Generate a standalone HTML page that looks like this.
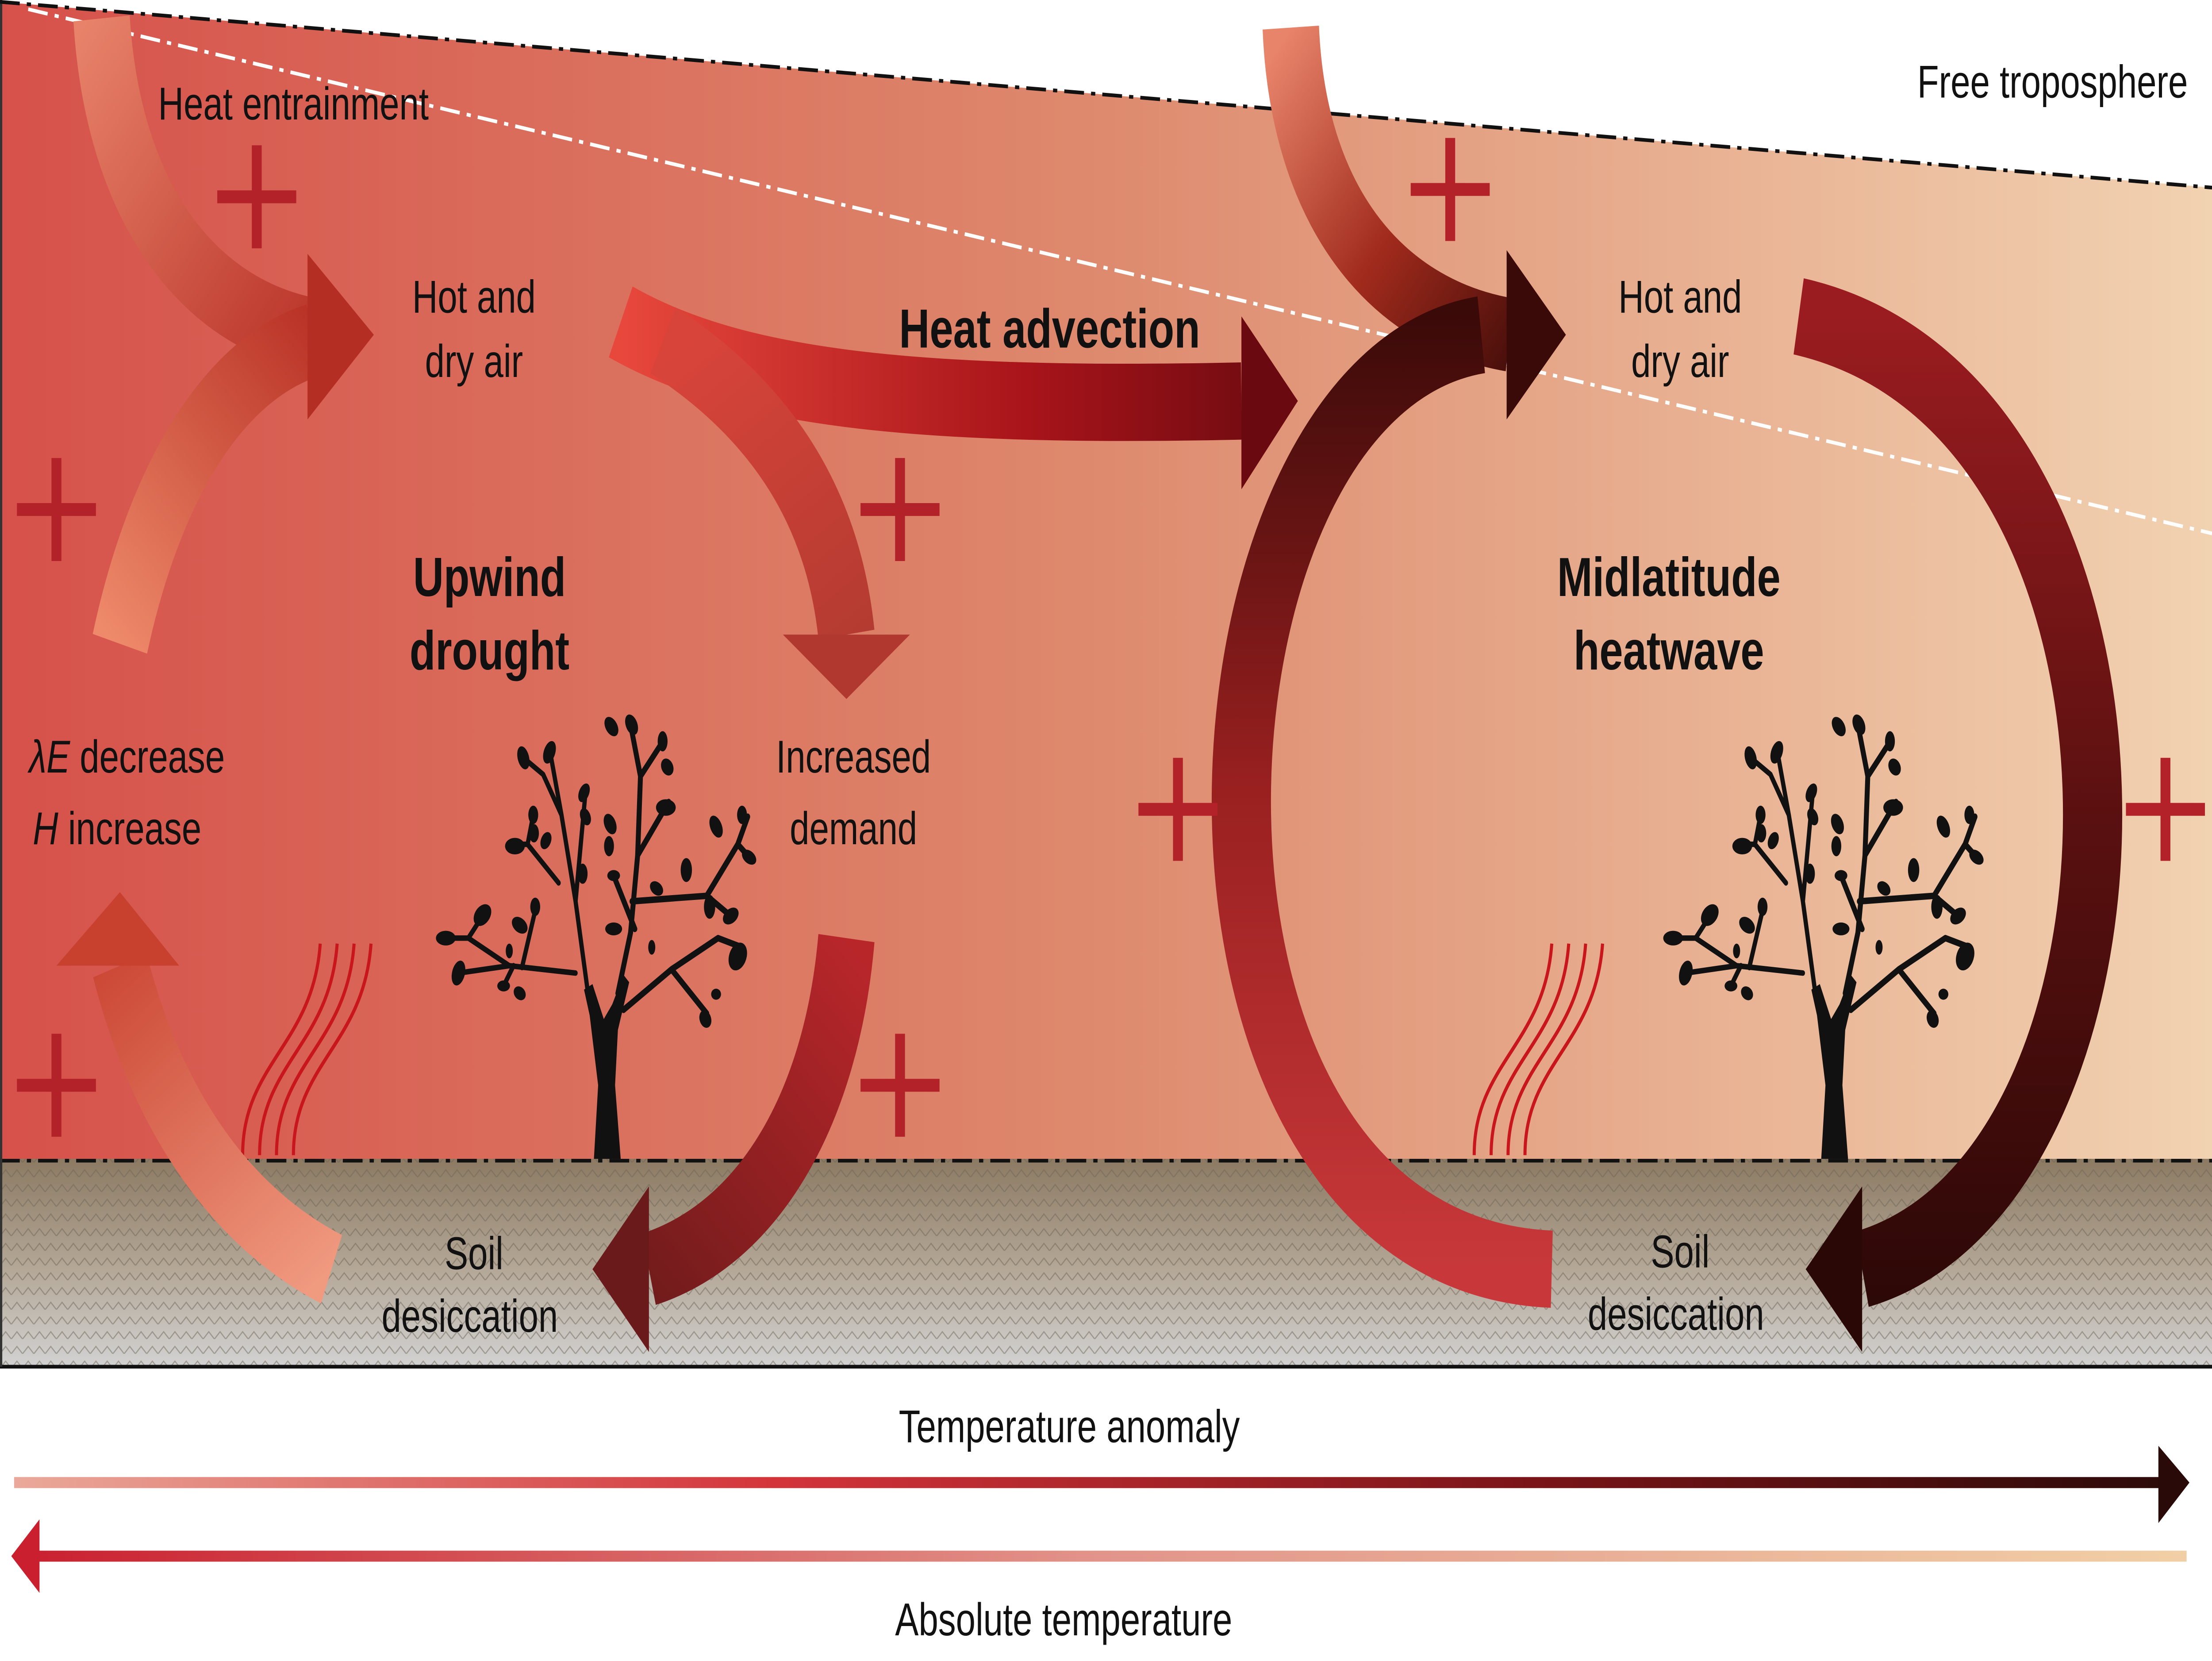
<!DOCTYPE html>
<html><head><meta charset="utf-8"><style>
html,body{margin:0;padding:0;background:#fff;width:100vw;height:100vh;overflow:hidden;}
svg{display:block;width:100vw;height:100vh;}
text{font-family:"Liberation Sans",sans-serif;}
</style></head><body>
<svg viewBox="0 0 1568 903" preserveAspectRatio="none" xmlns="http://www.w3.org/2000/svg">
<defs>
<linearGradient id="bg" x1="0" y1="0" x2="1568" y2="0" gradientUnits="userSpaceOnUse">
<stop offset="0" stop-color="#d6514a"/><stop offset="0.5" stop-color="#de8a6e"/><stop offset="1" stop-color="#f1d2b1"/></linearGradient>
<linearGradient id="gr" x1="0" y1="630" x2="0" y2="743" gradientUnits="userSpaceOnUse">
<stop offset="0" stop-color="#8c7a63"/><stop offset="0.55" stop-color="#b5a999"/><stop offset="1" stop-color="#d2d2d2"/></linearGradient>
<pattern id="hatch" width="8" height="8" patternUnits="userSpaceOnUse">
<path d="M0 8 L4 4 L8 8" stroke="#6e6658" stroke-width="0.7" fill="none" opacity="0.5"/></pattern>
<linearGradient id="ta" x1="10" y1="0" x2="1550" y2="0" gradientUnits="userSpaceOnUse">
<stop offset="0" stop-color="#eaa99a"/><stop offset="0.35" stop-color="#d3343a"/><stop offset="0.7" stop-color="#7a1418"/><stop offset="1" stop-color="#2a0a08"/></linearGradient>
<linearGradient id="at" x1="10" y1="0" x2="1550" y2="0" gradientUnits="userSpaceOnUse">
<stop offset="0" stop-color="#c91f2e"/><stop offset="0.5" stop-color="#e2948a"/><stop offset="1" stop-color="#f1cfa5"/></linearGradient>
<linearGradient id="g1" x1="60" y1="10" x2="265" y2="180" gradientUnits="userSpaceOnUse">
<stop offset="0" stop-color="#e8836a"/><stop offset="1" stop-color="#b42a22"/></linearGradient>
<linearGradient id="g2" x1="80" y1="350" x2="240" y2="180" gradientUnits="userSpaceOnUse">
<stop offset="0" stop-color="#ee8a6a"/><stop offset="1" stop-color="#b83024"/></linearGradient>
<linearGradient id="g3" x1="440" y1="0" x2="920" y2="0" gradientUnits="userSpaceOnUse">
<stop offset="0" stop-color="#e8483c"/><stop offset="0.6" stop-color="#a8141a"/><stop offset="1" stop-color="#6a0a10"/></linearGradient>
<linearGradient id="g4" x1="480" y1="190" x2="600" y2="380" gradientUnits="userSpaceOnUse">
<stop offset="0" stop-color="#d8443a"/><stop offset="1" stop-color="#b03a30"/></linearGradient>
<linearGradient id="g5" x1="600" y1="510" x2="420" y2="700" gradientUnits="userSpaceOnUse">
<stop offset="0" stop-color="#b8262a"/><stop offset="1" stop-color="#6a1a1a"/></linearGradient>
<linearGradient id="g6" x1="235" y1="690" x2="85" y2="490" gradientUnits="userSpaceOnUse">
<stop offset="0" stop-color="#f09a80"/><stop offset="1" stop-color="#c8402e"/></linearGradient>
<linearGradient id="g7" x1="915" y1="15" x2="1110" y2="180" gradientUnits="userSpaceOnUse">
<stop offset="0" stop-color="#e8846a"/><stop offset="0.5" stop-color="#a02a1c"/><stop offset="1" stop-color="#3a0a08"/></linearGradient>
<linearGradient id="g8" x1="0" y1="690" x2="0" y2="170" gradientUnits="userSpaceOnUse">
<stop offset="0" stop-color="#c8383a"/><stop offset="0.5" stop-color="#9a2020"/><stop offset="1" stop-color="#3a0a08"/></linearGradient>
<linearGradient id="g9" x1="0" y1="170" x2="0" y2="720" gradientUnits="userSpaceOnUse">
<stop offset="0" stop-color="#9a1c20"/><stop offset="0.5" stop-color="#5a1010"/><stop offset="1" stop-color="#2a0806"/></linearGradient>
<g id="tree" fill="#111" stroke="#111" stroke-linecap="round" stroke-linejoin="round">
<path d="M-9 0 L-6 -40 L-12 -78 L-16 -92 L-10 -95 L-2 -76 L4 -84 L12 -100 L16 -96 L8 -70 L6 -40 L10 0 Z" stroke="none"/>
<path d="M-13 -89 L-22 -140 L-32 -187 L-45 -209 L-59 -218 M-32 -187 L-40 -221 M-22 -140 L-15 -199 M-22 -101 L-69 -105 L-98 -120 L-118 -120 M-69 -105 L-105 -101 M-34 -150 L-56 -171 L-69 -171 M-56 -171 L-52 -187 M-98 -120 L-88 -132 M-60 -104 L-50 -137 M-66 -105 L-73 -94" fill="none" stroke-width="3"/>
<path d="M8 -90 L17 -123 L22 -165 L24 -208 L17 -236 M24 -208 L40 -227 M22 -165 L44 -194 M18 -140 L71 -143 L93 -171 L100 -186 M71 -143 L88 -132 M12 -81 L46 -103 L79 -120 L96 -115 M46 -103 L71 -79 M20 -125 L5 -154 M93 -171 L101 -164" fill="none" stroke-width="3.5"/>
<g stroke="none">
<ellipse cx="-59" cy="-218" rx="4" ry="6.5" transform="rotate(-20 -59 -218)"/><ellipse cx="-40.5" cy="-221" rx="4" ry="6.5" transform="rotate(25 -40.5 -221)"/>
<ellipse cx="3.4" cy="-235" rx="4" ry="6" transform="rotate(-40 3.4 -235)"/><ellipse cx="17.7" cy="-236" rx="4" ry="6" transform="rotate(-30 17.7 -236)"/>
<ellipse cx="39.7" cy="-227" rx="3.5" ry="5.5"/><ellipse cx="43" cy="-213" rx="4" ry="5" transform="rotate(-40 43 -213)"/>
<ellipse cx="42" cy="-191" rx="7" ry="4.5"/><ellipse cx="-16" cy="-199" rx="3.5" ry="5.5" transform="rotate(30 -16 -199)"/>
<ellipse cx="-15" cy="-186" rx="3.5" ry="5" transform="rotate(-30 -15 -186)"/><ellipse cx="-52" cy="-187" rx="3.5" ry="5"/>
<ellipse cx="-51.5" cy="-177" rx="3.5" ry="5"/><ellipse cx="-65" cy="-170" rx="7" ry="4.5"/><ellipse cx="-43" cy="-173" rx="3.5" ry="5" transform="rotate(30 -43 -173)"/>
<ellipse cx="2.5" cy="-182" rx="4" ry="6" transform="rotate(-30 2.5 -182)"/><ellipse cx="1.7" cy="-170" rx="3.5" ry="5.5"/>
<ellipse cx="-17" cy="-155" rx="3.5" ry="5.5"/><ellipse cx="5" cy="-154" rx="4.5" ry="3"/><ellipse cx="56.5" cy="-157" rx="4" ry="6.5"/>
<ellipse cx="35.4" cy="-147" rx="5" ry="3.5" transform="rotate(30 35.4 -147)"/><ellipse cx="77.6" cy="-180.6" rx="4" ry="6.5" transform="rotate(-30 77.6 -180.6)"/>
<ellipse cx="96" cy="-187" rx="3.5" ry="5"/><ellipse cx="101" cy="-164" rx="5.5" ry="3.5" transform="rotate(30 101 -164)"/>
<ellipse cx="73" cy="-137" rx="4" ry="6.5"/><ellipse cx="88" cy="-132" rx="6" ry="4" transform="rotate(-30 88 -132)"/>
<ellipse cx="93" cy="-110" rx="6" ry="8" transform="rotate(30 93 -110)"/><ellipse cx="77.6" cy="-89.5" rx="3.5" ry="3"/>
<ellipse cx="70" cy="-76" rx="4" ry="5" transform="rotate(-30 70 -76)"/><ellipse cx="5" cy="-125" rx="6" ry="3.5"/>
<ellipse cx="32" cy="-115" rx="2.5" ry="4"/><ellipse cx="-88" cy="-132.5" rx="7" ry="5" transform="rotate(-40 -88 -132.5)"/>
<ellipse cx="-114" cy="-120" rx="7" ry="4"/><ellipse cx="-105" cy="-101" rx="4.5" ry="7" transform="rotate(20 -105 -101)"/>
<ellipse cx="-61.6" cy="-127" rx="6" ry="4" transform="rotate(30 -61.6 -127)"/><ellipse cx="-50.6" cy="-137" rx="3.5" ry="5"/>
<ellipse cx="-69" cy="-113" rx="2.5" ry="4"/><ellipse cx="-73" cy="-94" rx="4.5" ry="3"/><ellipse cx="-61.6" cy="-90" rx="4.5" ry="3.5" transform="rotate(30 -61.6 -90)"/>
</g></g>
<g id="waves" fill="none" stroke="#c8161c" stroke-width="2.2">
<path d="M0 0 C0 -50 50 -60 55 -115"/><path d="M12 0 C12 -50 62 -60 67 -115"/><path d="M24 0 C24 -50 74 -60 79 -115"/><path d="M36 0 C36 -50 86 -60 91 -115"/>
</g>
<g id="plus" stroke="#b32228" stroke-width="7"><line x1="-28" y1="0" x2="28" y2="0"/><line x1="0" y1="-28" x2="0" y2="28"/></g>
</defs>

<rect x="0" y="0" width="1568" height="903" fill="#fff"/>
<rect x="0" y="0" width="1568" height="632" fill="url(#bg)"/>
<polygon points="0,0 1568,0 1568,102 0,1" fill="#fff"/>
<rect x="0" y="630" width="1568" height="113" fill="url(#gr)"/>
<rect x="0" y="630" width="1568" height="113" fill="url(#hatch)"/>
<line x1="0" y1="631" x2="1568" y2="631" stroke="#111" stroke-width="2" stroke-dasharray="14,5,3,5"/>
<line x1="0" y1="743" x2="1568" y2="743" stroke="#111" stroke-width="2"/>
<line x1="0.8" y1="0" x2="0.8" y2="743" stroke="#333" stroke-width="1.6"/>
<line x1="0" y1="1" x2="1568" y2="102" stroke="#111" stroke-width="2" stroke-dasharray="14,5,3,5"/>
<line x1="20" y1="5" x2="1568" y2="290" stroke="#fff" stroke-width="2" stroke-dasharray="14,5,3,5"/>

<use href="#waves" x="172" y="628"/>
<use href="#waves" x="1045" y="628"/>
<use href="#tree" x="430" y="630"/>
<use href="#tree" x="1300" y="630"/>

<path d="M72 10 C80 110 140 170 222 182" fill="none" stroke="url(#g1)" stroke-width="40"/>
<path d="M85 350 C110 260 160 200 222 185" fill="none" stroke="url(#g2)" stroke-width="40"/>
<polygon points="218,138 265,182 218,228" fill="#b42e24"/>
<path d="M440 175 C520 210 640 222 880 218" fill="none" stroke="url(#g3)" stroke-width="42"/>
<polygon points="880,172 920,218 880,266" fill="#6a0a10"/>
<path d="M470 185 C540 220 590 270 600 345" fill="none" stroke="url(#g4)" stroke-width="40"/>
<polygon points="555,345 645,345 600,380" fill="#b0382e"/>
<path d="M600 510 C590 600 540 670 460 690" fill="none" stroke="url(#g5)" stroke-width="40"/>
<polygon points="460,645 420,690 460,735" fill="#6a1a1a"/>
<path d="M235 690 C160 660 110 600 85 525" fill="none" stroke="url(#g6)" stroke-width="40"/>
<polygon points="40,525 85,485 127,525" fill="#c8402e"/>

<path d="M915 15 C920 110 980 170 1070 182" fill="none" stroke="url(#g7)" stroke-width="40"/>
<path d="M1100 690 C800 680 830 210 1050 182" fill="none" stroke="url(#g8)" stroke-width="42"/>
<polygon points="1068,136 1110,182 1068,228" fill="#3a0a08"/>
<path d="M1275 172 C1550 220 1540 640 1320 690" fill="none" stroke="url(#g9)" stroke-width="42"/>
<polygon points="1320,645 1280,690 1320,735" fill="#2a0806"/>

<use href="#plus" x="182" y="107"/><use href="#plus" x="40" y="277"/><use href="#plus" x="638" y="277"/>
<use href="#plus" x="40" y="590"/><use href="#plus" x="638" y="590"/><use href="#plus" x="1028" y="103"/>
<use href="#plus" x="835" y="440"/><use href="#plus" x="1535" y="440"/>

<g font-size="25" fill="#111" text-anchor="middle">
<text x="208" y="65">Heat entrainment</text>
<text x="336" y="170">Hot and</text><text x="336" y="205">dry air</text>
<text x="1191" y="170">Hot and</text><text x="1191" y="205">dry air</text>
<text x="605" y="420">Increased</text><text x="605" y="459">demand</text>
<text x="90" y="420"><tspan font-style="italic">λE</tspan> decrease</text>
<text x="83" y="459"><tspan font-style="italic">H</tspan> increase</text>
<text x="336" y="690">Soil</text><text x="333" y="724">desiccation</text>
<text x="1191" y="689">Soil</text><text x="1188" y="723">desiccation</text>
<text x="1455" y="53">Free troposphere</text>
<text x="758" y="784">Temperature anomaly</text>
<text x="754" y="889">Absolute temperature</text>
</g>
<g font-size="30" font-weight="bold" fill="#111" text-anchor="middle">
<text x="744" y="189">Heat advection</text>
<text x="347" y="324">Upwind</text><text x="347" y="364">drought</text>
<text x="1183" y="324">Midlatitude</text><text x="1183" y="364">heatwave</text>
</g>

<line x1="10" y1="806" x2="1532" y2="806" stroke="url(#ta)" stroke-width="6"/>
<polygon points="1530,786 1552,806 1530,828" fill="#2a0a08"/>
<line x1="26" y1="846" x2="1550" y2="846" stroke="url(#at)" stroke-width="6"/>
<polygon points="28,826 8,846 28,866" fill="#c91f2e"/>
</svg>
</body></html>
